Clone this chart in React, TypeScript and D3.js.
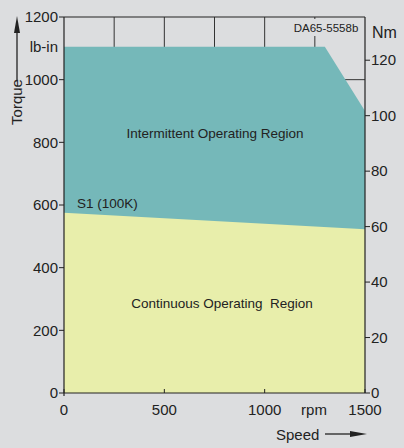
import React, { useEffect, useRef } from 'react';
import * as d3 from 'd3';

// Torque curves (speed in rpm, torque in lb-in)
const intermittentSpeed = [0, 1300, 1500];
const intermittentTorque = [1105, 1105, 900];
const continuousSpeed = [0, 1500];
const continuousTorque = [575, 523];

const speedTicks = [0, 500, 1000, 1500];
const gridSpeeds = [250, 500, 750, 1000, 1250];
const lbinTicks = [0, 200, 400, 600, 800, 1000, 1200];
const nmTicks = [0, 20, 40, 60, 80, 100, 120];
const LBIN_PER_NM = 8.8507;

const App: React.FC = () => {
  const ref = useRef<SVGSVGElement | null>(null);

  useEffect(() => {
    if (!ref.current) return;
    const svg = d3.select(ref.current);
    svg.selectAll('*').remove();

    const W = 404, H = 448;
    const left = 64, right = 365, top = 17, bottom = 393;
    const font = "'Liberation Sans', Arial, sans-serif";
    const ink = '#222';

    svg.append('rect').attr('width', W).attr('height', H).attr('fill', '#dcdddf');

    const x = d3.scaleLinear().domain([0, 1500]).range([left, right]);
    const y = d3.scaleLinear().domain([0, 1200]).range([bottom, top]);
    const yNm = d3.scaleLinear().domain([0, 1200 / LBIN_PER_NM]).range([bottom, top]);

    // grid
    svg.append('g').selectAll('line').data(gridSpeeds).enter().append('line')
      .attr('x1', d => x(d)).attr('x2', d => x(d))
      .attr('y1', top).attr('y2', bottom)
      .attr('stroke', '#333').attr('stroke-width', 1);
    svg.append('g').selectAll('line').data(lbinTicks.slice(1, -1)).enter().append('line')
      .attr('x1', left).attr('x2', right)
      .attr('y1', d => y(d)).attr('y2', d => y(d))
      .attr('stroke', '#333').attr('stroke-width', 1);

    const area = d3.area<[number, number]>()
      .x(d => x(d[0])).y0(y(0)).y1(d => y(d[1]));

    const inter = intermittentSpeed.map((s, i) => [s, intermittentTorque[i]] as [number, number]);
    const cont = continuousSpeed.map((s, i) => [s, continuousTorque[i]] as [number, number]);

    svg.append('path').attr('d', area(inter)!).attr('fill', '#75b8b9');
    svg.append('path').attr('d', area(cont)!).attr('fill', '#e8eeab');

    // frame
    const frame = svg.append('g').attr('stroke', ink).attr('stroke-width', 1.2);
    frame.append('line').attr('x1', left).attr('x2', right).attr('y1', top).attr('y2', top);
    frame.append('line').attr('x1', left).attr('x2', right).attr('y1', bottom).attr('y2', bottom);
    frame.append('line').attr('x1', left).attr('x2', left).attr('y1', top).attr('y2', bottom + 3);
    frame.append('line').attr('x1', right).attr('x2', right).attr('y1', top).attr('y2', bottom);

    // left axis
    const la = svg.append('g');
    la.selectAll('line').data(lbinTicks).enter().append('line')
      .attr('x1', left - 5).attr('x2', left).attr('y1', d => y(d)).attr('y2', d => y(d))
      .attr('stroke', ink);
    la.selectAll('text').data(lbinTicks).enter().append('text')
      .attr('x', left - 6).attr('y', d => y(d)).attr('dy', '0.35em')
      .attr('text-anchor', 'end').attr('font-family', font).attr('font-size', 15).attr('fill', ink)
      .text(d => d);

    // right axis
    const ra = svg.append('g');
    ra.selectAll('line').data(nmTicks).enter().append('line')
      .attr('x1', right).attr('x2', right + 5).attr('y1', d => yNm(d)).attr('y2', d => yNm(d))
      .attr('stroke', ink);
    ra.selectAll('text').data(nmTicks).enter().append('text')
      .attr('x', right + 6).attr('y', d => yNm(d)).attr('dy', '0.35em')
      .attr('font-family', font).attr('font-size', 15).attr('fill', ink)
      .text(d => d);

    // bottom axis
    const ba = svg.append('g');
    ba.selectAll('line').data(speedTicks).enter().append('line')
      .attr('x1', d => x(d)).attr('x2', d => x(d)).attr('y1', bottom - 4).attr('y2', bottom)
      .attr('stroke', ink);
    ba.selectAll('text').data(speedTicks).enter().append('text')
      .attr('x', d => x(d)).attr('y', bottom + 22)
      .attr('text-anchor', 'middle').attr('font-family', font).attr('font-size', 15).attr('fill', ink)
      .text(d => d);

    const txt = (tx: number, ty: number, s: string, size = 15, anchor = 'start') =>
      svg.append('text').attr('x', tx).attr('y', ty).attr('font-family', font)
        .attr('font-size', size).attr('fill', ink).attr('text-anchor', anchor).text(s);

    txt(314, bottom + 22, 'rpm', 15, 'middle');
    txt(left - 6, 52, 'lb-in', 15, 'end');
    txt(372, 38, 'Nm', 16);

    // figure id with background patch
    svg.append('rect').attr('x', 290).attr('y', 19).attr('width', 70).attr('height', 17).attr('fill', '#dcdddf');
    txt(326, 32, 'DA65-5558b', 11.5, 'middle');

    txt(215, 138, 'Intermittent Operating Region', 13.5, 'middle');
    txt(222, 308, 'Continuous Operating  Region', 13.5, 'middle').style('white-space', 'pre');
    txt(77, 208, 'S1 (100K)', 13.5);

    // Speed label + arrow
    txt(276, 440, 'Speed', 15);
    svg.append('line').attr('x1', 325).attr('x2', 352).attr('y1', 434).attr('y2', 434)
      .attr('stroke', ink).attr('stroke-width', 1.3);
    svg.append('path').attr('d', 'M350,431 L367,434 L350,437 Z').attr('fill', ink);

    // Torque label + arrow
    svg.append('text').attr('transform', 'translate(22,102) rotate(-90)')
      .attr('text-anchor', 'middle').attr('font-family', font).attr('font-size', 15).attr('fill', ink)
      .text('Torque');
    svg.append('line').attr('x1', 17).attr('x2', 17).attr('y1', 80).attr('y2', 30)
      .attr('stroke', ink).attr('stroke-width', 1.3);
    svg.append('path').attr('d', 'M14,33 L17,16 L20,33 Z').attr('fill', ink);
  }, []);

  return (
    <svg ref={ref} width={404} height={448}
      style={{ position: 'fixed', left: 0, top: 0, display: 'block' }} />
  );
};

export default App;
